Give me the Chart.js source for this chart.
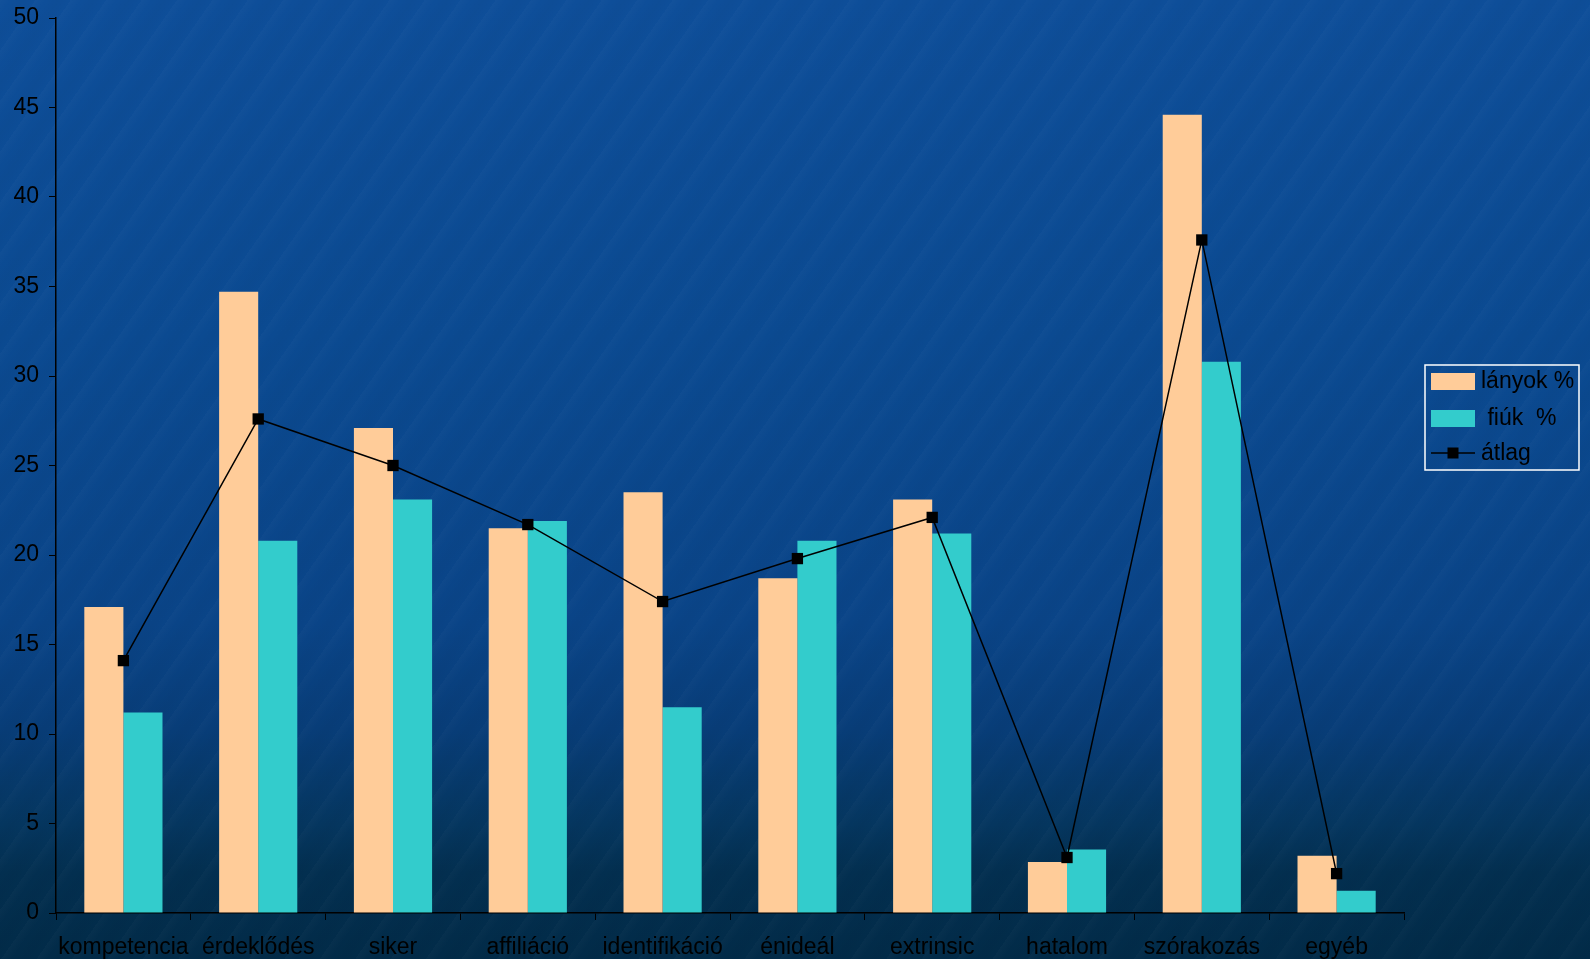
<!DOCTYPE html>
<html>
<head>
<meta charset="utf-8">
<script src="https://cdn.jsdelivr.net/npm/chart.js@4/dist/chart.umd.min.js"></script>
<style>
  html, body { margin: 0; padding: 0; }
  body {
    width: 1590px; height: 959px; overflow: hidden;
    background:
      repeating-linear-gradient(125deg, rgba(255,255,255,0.02) 0px, rgba(255,255,255,0.0) 9px, rgba(0,0,0,0.02) 19px, rgba(255,255,255,0.0) 29px),
      linear-gradient(to bottom, #0e4e99 0%, #0b4a91 35%, #0a4487 65%, #083d78 76%, #05365f 86%, #032f50 91%, #022b48 100%);
  }
  #wrap { position: relative; width: 1590px; height: 959px; }
</style>
</head>
<body>
<div id="wrap"><canvas id="motivChart"></canvas></div>
<script>
const categories = ['kompetencia', 'érdeklődés', 'siker', 'affiliáció', 'identifikáció',
  'énideál', 'extrinsic', 'hatalom', 'szórakozás', 'egyéb'];
const lanyok = [17.1, 34.7, 27.1, 21.5, 23.5, 18.7, 23.1, 2.85, 44.6, 3.2];
const fiuk = [11.2, 20.8, 23.1, 21.9, 11.5, 20.8, 21.2, 3.55, 30.8, 1.25];
const atlag = [14.1, 27.6, 25.0, 21.7, 17.4, 19.8, 22.1, 3.1, 37.6, 2.2];

const FONT = 'Liberation Sans, Arial, sans-serif';

// legend drawn in a fixed box, like the original slide
const boxLegend = {
  id: 'boxLegend',
  afterDraw(chart) {
    const c = chart.ctx;
    const x = 1425, y = 365, w = 154, h = 105;
    c.save();
    c.strokeStyle = '#ffffff';
    c.lineWidth = 1.5;
    c.strokeRect(x, y, w, h);
    c.font = '23px ' + FONT;
    c.textBaseline = 'middle';
    const rows = [381, 418, 453];
    chart.data.datasets.forEach((ds, i) => {
      const ry = rows[i];
      if (ds.type === 'line') {
        c.strokeStyle = '#000';
        c.lineWidth = 1.5;
        c.beginPath();
        c.moveTo(x + 6, ry);
        c.lineTo(x + 50, ry);
        c.stroke();
        c.fillStyle = '#000';
        c.fillRect(x + 28 - 5.5, ry - 5.5, 11, 11);
      } else {
        c.fillStyle = ds.backgroundColor;
        c.fillRect(x + 6, ry - 8, 44, 17);
      }
      c.fillStyle = '#000';
      c.fillText(ds.label, x + 56, ry + 1);
    });
    c.restore();
  }
};

const ctx = document.getElementById('motivChart').getContext('2d');

const motivChart = new Chart(ctx, {
  data: {
    labels: categories,
    datasets: [{
      type: 'bar',
      label: 'lányok %',
      data: lanyok,
      backgroundColor: '#FFCC99',
      categoryPercentage: 0.58,
      barPercentage: 1.0,
      order: 1
    }, {
      type: 'bar',
      label: ' fiúk  %',
      data: fiuk,
      backgroundColor: '#33CCCC',
      categoryPercentage: 0.58,
      barPercentage: 1.0,
      order: 1
    }, {
      type: 'line',
      label: 'átlag',
      data: atlag,
      borderColor: '#000',
      borderWidth: 1.5,
      backgroundColor: '#000',
      pointStyle: 'rect',
      pointRadius: 8,
      pointBorderWidth: 0,
      tension: 0,
      order: 0
    }]
  },
  options: {
    responsive: true,
    maintainAspectRatio: false,
    animation: false,
    layout: { padding: { top: 18, right: 186, left: 0, bottom: 0 } },
    scales: {
      x: {
        offset: true,
        border: { color: '#000', width: 1.5 },
        grid: { offset: true, drawOnChartArea: false, color: '#000', tickLength: 7 },
        ticks: { color: '#000', font: { family: FONT, size: 23 }, padding: 14, maxRotation: 0, autoSkip: false },
        afterFit: s => { s.height = 46; }
      },
      y: {
        min: 0,
        max: 50,
        border: { color: '#000', width: 1.5 },
        grid: { drawOnChartArea: false, color: '#000', tickLength: 7 },
        ticks: { stepSize: 5, color: '#000', font: { family: FONT, size: 23, lineHeight: 0.6 }, padding: 10 },
        afterFit: s => { s.width = 56; }
      }
    },
    plugins: {
      legend: { display: false },
      tooltip: { enabled: false }
    }
  },
  plugins: [boxLegend]
});
</script>
</body>
</html>
